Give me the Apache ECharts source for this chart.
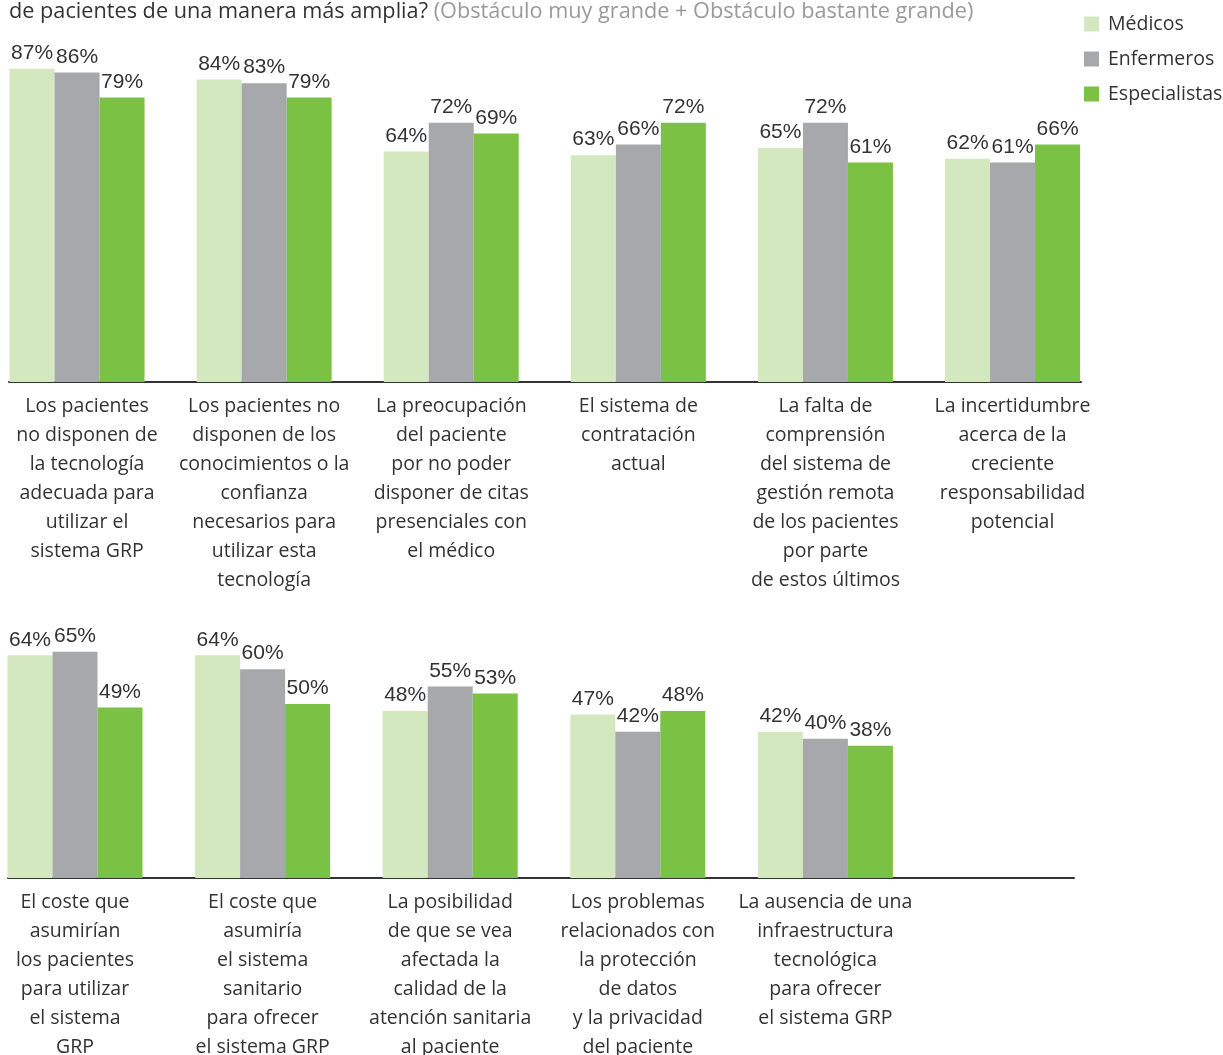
<!DOCTYPE html>
<html>
<head>
<meta charset="utf-8">
<script src="https://cdn.jsdelivr.net/npm/echarts@6/dist/echarts.min.js"></script>
<style>
html,body{margin:0;padding:0;background:#fff;}
#chart{width:1223px;height:1055px;}
</style>
</head>
<body>
<div id="chart"></div>
<script>
const seriesNames = ['Médicos', 'Enfermeros', 'Especialistas'];
const colors = ['#d4e8c0', '#a7a8ab', '#7bc143'];

const topCategories = [
  'Los pacientes\nno disponen de\nla tecnología\nadecuada para\nutilizar el\nsistema GRP',
  'Los pacientes no\ndisponen de los\nconocimientos o la\nconfianza\nnecesarios para\nutilizar esta\ntecnología',
  'La preocupación\ndel paciente\npor no poder\ndisponer de citas\npresenciales con\nel médico',
  'El sistema de\ncontratación\nactual',
  'La falta de\ncomprensión\ndel sistema de\ngestión remota\nde los pacientes\npor parte\nde estos últimos',
  'La incertidumbre\nacerca de la\ncreciente\nresponsabilidad\npotencial'
];
const topMedicos = [87, 84, 64, 63, 65, 62];
const topEnfermeros = [86, 83, 72, 66, 72, 61];
const topEspecialistas = [79, 79, 69, 72, 61, 66];

const bottomCategories = [
  'El coste que\nasumirían\nlos pacientes\npara utilizar\nel sistema\nGRP',
  'El coste que\nasumiría\nel sistema\nsanitario\npara ofrecer\nel sistema GRP',
  'La posibilidad\nde que se vea\nafectada la\ncalidad de la\natención sanitaria\nal paciente',
  'Los problemas\nrelacionados con\nla protección\nde datos\ny la privacidad\ndel paciente',
  'La ausencia de una\ninfraestructura\ntecnológica\npara ofrecer\nel sistema GRP'
];
const bottomMedicos = [64, 64, 48, 47, 42];
const bottomEnfermeros = [65, 60, 55, 42, 40];
const bottomEspecialistas = [49, 50, 53, 48, 38];

const titleMain = 'de pacientes de una manera más amplia? ';
const titleSub = '(Obstáculo muy grande + Obstáculo bastante grande)';

const labelFont = 'Open Sans';
const valueFont = 'Liberation Sans';

function catAxis(gridIndex, data) {
  return {
    type: 'category', gridIndex: gridIndex,
    data: data.map(function (d, i) {
      if (gridIndex === 0 && i === 0) return { value: d, textStyle: { padding: [0, 0, 0, 20] } };
      return d;
    }),
    axisLine: { show: false }, axisTick: { show: false },
    axisLabel: {
      interval: 0, margin: 10, color: '#333', fontFamily: labelFont,
      fontSize: 19.5, lineHeight: 29, align: 'center', verticalAlign: 'top'
    }
  };
}
function lineAxis(gridIndex) {
  return {
    type: 'value', gridIndex: gridIndex, min: 0, max: 1,
    axisLine: { show: true, lineStyle: { color: '#333', width: 2 } },
    axisTick: { show: false }, axisLabel: { show: false }, splitLine: { show: false }
  };
}
function hiddenY(gridIndex, max) {
  return { type: 'value', gridIndex: gridIndex, min: 0, max: max, show: false, splitLine: { show: false } };
}
function barSeries(name, idx, data, axisIndex) {
  return {
    name: name, type: 'bar', xAxisIndex: axisIndex, yAxisIndex: axisIndex,
    data: data, barWidth: 45, barGap: '0%',
    itemStyle: { color: colors[idx] },
    label: {
      show: true, position: 'top', distance: 5, formatter: '{c}%',
      color: '#333', fontFamily: valueFont, fontSize: 21
    }
  };
}

const chart = echarts.init(document.getElementById('chart'), null, { renderer: 'canvas' });
chart.setOption({
  animation: false,
  backgroundColor: '#fff',
  title: {
    left: 4, top: -6,
    text: '{a|' + titleMain + '}{b|' + titleSub + '}',
    textStyle: {
      fontWeight: 'normal',
      rich: {
        a: { color: '#333', fontFamily: labelFont, fontSize: 21.7, lineHeight: 26, fontWeight: 'normal' },
        b: { color: '#9a9a9a', fontFamily: labelFont, fontSize: 21.7, lineHeight: 26, fontWeight: 'normal' }
      }
    }
  },
  legend: {
    data: seriesNames, orient: 'vertical', left: 1079, top: 9,
    itemWidth: 15, itemHeight: 15, itemGap: 15, icon: 'rect',
    textStyle: { color: '#333', fontFamily: labelFont, fontSize: 19.5, lineHeight: 20, padding: [0, 0, 0, 4] }
  },
  grid: [
    { left: -16.5, top: 22, width: 1122.6, height: 360, outerBoundsMode: 'none' },
    { left: -18.8, top: 530, width: 938, height: 348, outerBoundsMode: 'none' },
    { left: 9, top: 372, width: 1072, height: 10, outerBoundsMode: 'none' },
    { left: 8, top: 868, width: 1066, height: 10, outerBoundsMode: 'none' }
  ],
  xAxis: [catAxis(0, topCategories), catAxis(1, bottomCategories), lineAxis(2), lineAxis(3)],
  yAxis: [hiddenY(0, 100), hiddenY(1, 100), hiddenY(2, 1), hiddenY(3, 1)],
  series: [
    barSeries(seriesNames[0], 0, topMedicos, 0),
    barSeries(seriesNames[1], 1, topEnfermeros, 0),
    barSeries(seriesNames[2], 2, topEspecialistas, 0),
    barSeries(seriesNames[0], 0, bottomMedicos, 1),
    barSeries(seriesNames[1], 1, bottomEnfermeros, 1),
    barSeries(seriesNames[2], 2, bottomEspecialistas, 1)
  ]
});
</script>
</body>
</html>
